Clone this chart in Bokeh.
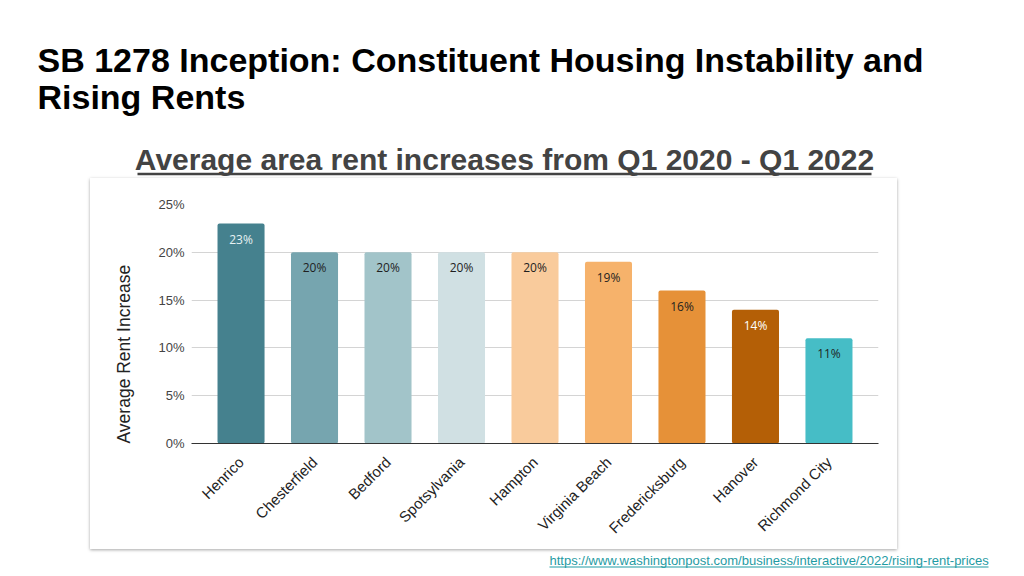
import math
from bokeh.plotting import figure
from bokeh.layouts import column, row
from bokeh.models import ColumnDataSource, FactorRange, Range1d, FixedTicker, Spacer, Title
from bokeh.core.properties import value
from bokeh.embed import file_html
from bokeh.resources import INLINE

# ---------------- data ----------------
categories = ["Henrico", "Chesterfield", "Bedford", "Spotsylvania", "Hampton",
              "Virginia Beach", "Fredericksburg", "Hanover", "Richmond City"]
rent_increase = [23, 20, 20, 20, 20, 19, 16, 14, 11]
bar_colors = ["#45818e", "#76a5af", "#a2c4c9", "#d0e0e3", "#f9cb9c",
              "#f6b26b", "#e69138", "#b45f06", "#46bdc6"]
label_colors = ["#e6f2f3", "#1f1f1f", "#1f1f1f", "#1f1f1f", "#1f1f1f",
                "#1f1f1f", "#1f1f1f", "#ffffff", "#1f1f1f"]
y_ticks = [0, 5, 10, 15, 20, 25]
y_tick_labels = ["0%", "5%", "10%", "15%", "20%", "25%"]
title_lines = ["SB 1278 Inception: Constituent Housing Instability and", "Rising Rents"]
subtitle = "Average area rent increases from Q1 2020 - Q1 2022"
y_axis_title = "Average Rent Increase"
source_url = "https://www.washingtonpost.com/business/interactive/2022/rising-rent-prices"

# ---------------- page geometry (pixels) ----------------
PAGE_W, PAGE_H = 1016, 568
CARD_L, CARD_R, CARD_T, CARD_B = 90, 897, 178, 549
FRAME_L, FRAME_R, FRAME_T, FRAME_B = 190, 878, 204, 443


def blank(width, height):
    f = figure(width=width, height=height, x_range=Range1d(0, width),
               y_range=Range1d(height, 0),
               output_backend="svg", toolbar_location=None,
               x_axis_type=None, y_axis_type=None, min_border=0)
    f.outline_line_color = None
    f.grid.grid_line_color = None
    f.background_fill_color = None
    f.border_fill_color = None
    return f


# ---------------- header ----------------
header = blank(PAGE_W, CARD_T)
header.text(x=[37, 37], y=[59.5, 96.5], text=title_lines,
            text_font=value("Liberation Sans"), text_font_size="34px",
            text_font_style="bold", text_color="#000000",
            text_baseline="middle", text_align="left")
header.text(x=[504], y=[158.5], text=[subtitle],
            text_font=value("Liberation Sans"), text_font_size="30px",
            text_font_style="bold", text_color="#434343",
            text_baseline="middle", text_align="center")
header.segment(x0=[137], y0=[173.4], x1=[871], y1=[173.4],
               line_color="#434343", line_width=2.5)

# ---------------- chart (card) ----------------
src = ColumnDataSource(dict(cat=categories, val=rent_increase, color=bar_colors,
                            lcolor=label_colors,
                            lab=[f"{v}%" for v in rent_increase]))

p = figure(width=CARD_R - CARD_L, height=CARD_B - CARD_T,
           x_range=FactorRange(factors=categories, range_padding=0.174,
                               range_padding_units="absolute"),
           y_range=Range1d(0, 25),
           output_backend="svg", toolbar_location=None,
           min_border_left=FRAME_L - CARD_L, min_border_right=CARD_R - FRAME_R,
           min_border_top=FRAME_T - CARD_T, min_border_bottom=CARD_B - FRAME_B)
p.outline_line_color = None
p.background_fill_color = "white"
p.border_fill_color = "white"
p.styles = {"box-shadow": "0px 1px 3px 0px rgba(0,0,0,0.35)"}

p.vbar(x="cat", top="val", width=0.64, source=src, fill_color="color",
       line_color=None, border_radius=2)
p.text(x="cat", y="val", text="lab", source=src, y_offset=7,
       text_align="center", text_baseline="top", text_color="lcolor",
       text_font=value("Open Sans"), text_font_size="12px")

p.xgrid.grid_line_color = None
p.ygrid.grid_line_color = "#d4d4d4"
p.ygrid.ticker = FixedTicker(ticks=y_ticks)

p.yaxis.ticker = FixedTicker(ticks=y_ticks)
p.yaxis.major_label_overrides = {t: l for t, l in zip(y_ticks, y_tick_labels)}
p.yaxis.axis_line_color = None
p.yaxis.major_tick_line_color = None
p.yaxis.minor_tick_line_color = None
p.yaxis.major_tick_out = 0
p.yaxis.major_label_standoff = 7
p.yaxis.major_label_text_font = "Liberation Sans"
p.yaxis.major_label_text_font_size = "13px"
p.yaxis.major_label_text_color = "#444444"

p.xaxis.axis_line_color = "#333333"
p.xaxis.major_tick_line_color = None
p.xaxis.minor_tick_line_color = None
p.xaxis.major_tick_out = 0
p.xaxis.major_label_standoff = 16
p.xaxis.major_label_orientation = math.pi / 4
p.xaxis.major_label_text_font = "Liberation Sans"
p.xaxis.major_label_text_font_size = "15px"
p.xaxis.major_label_text_color = "#222222"

p.add_layout(Title(text=y_axis_title, align="left", standoff=43,
                   text_font="Liberation Sans", text_font_size="17.5px",
                   text_font_style="normal", text_color="#222222"), "left")

chart_row = row(Spacer(width=CARD_L, height=CARD_B - CARD_T), p)

# ---------------- footer ----------------
footer = blank(PAGE_W, PAGE_H - CARD_B)
fy = lambda py: py - CARD_B
footer.text(x=[549], y=[fy(559.5)], text=[source_url],
            text_font=value("Liberation Sans"), text_font_size="13px",
            text_color="#1f9ba3", text_baseline="middle", text_align="left")
footer.segment(x0=[549], y0=[fy(566.5)], x1=[988], y1=[fy(566.5)],
               line_color="#1f9ba3", line_width=1)

layout = column(header, chart_row, footer, spacing=0)
open("out.html", "w").write(file_html(layout, INLINE))
